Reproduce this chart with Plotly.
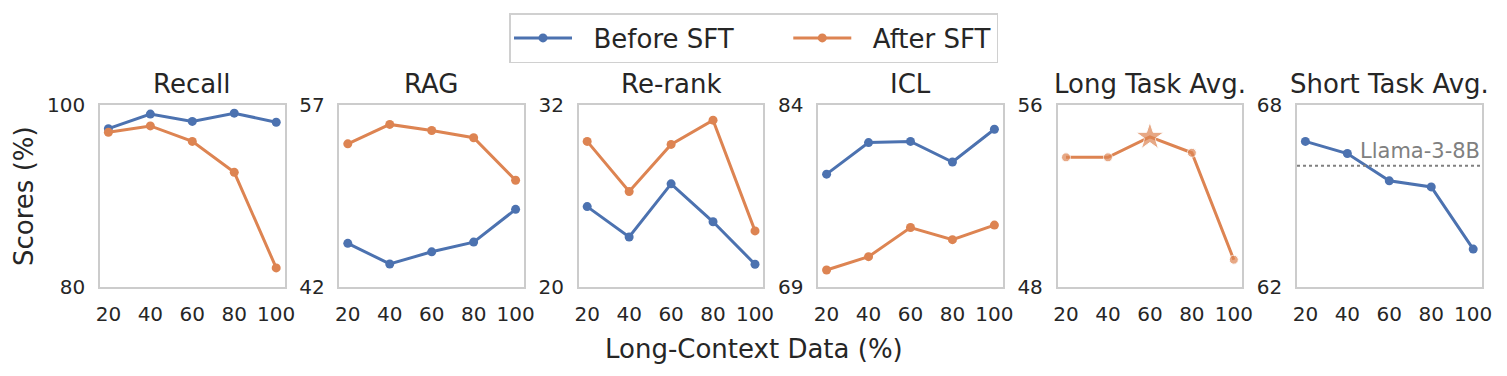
import plotly.graph_objects as go

# ---------------- data ----------------
x_vals = [20, 40, 60, 80, 100]
x_ticks = [20, 40, 60, 80, 100]

titles = ["Recall", "RAG", "Re-rank", "ICL", "Long Task Avg.", "Short Task Avg."]
series_names = ["Before SFT", "After SFT"]

recall_before = [97.4, 99.0, 98.2, 99.1, 98.1]
recall_after = [97.0, 97.7, 96.0, 92.6, 82.1]
rag_before = [45.6, 43.9, 44.9, 45.7, 48.4]
rag_after = [53.8, 55.4, 54.9, 54.3, 50.8]
rerank_before = [25.3, 23.3, 26.8, 24.3, 21.5]
rerank_after = [29.6, 26.3, 29.4, 31.0, 23.7]
icl_before = [78.3, 80.9, 81.0, 79.3, 82.0]
icl_after = [70.4, 71.5, 73.9, 72.9, 74.1]
long_after = [53.7, 53.7, 54.6, 53.9, 49.2]
short_before = [66.8, 66.4, 65.5, 65.3, 63.25]

llama_short = 66.0
llama_label = "Llama-3-8B"

y_ranges = [(80, 100), (42, 57), (20, 32), (69, 84), (48, 56), (62, 68)]

before_series = [recall_before, rag_before, rerank_before, icl_before, None, short_before]
after_series = [recall_after, rag_after, rerank_after, icl_after, long_after, None]

# ---------------- style ----------------
BLUE = "#4C72B0"
ORANGE = "#DD8452"
TXT = "#262626"
EDGE = "#cccccc"
FONT = "DejaVu Sans"
NB = "\u00a0"

# legend labels: small gap after the symbol, wider gap between entries
legend_labels = [NB * 2 + series_names[0] + NB * 6, NB * 2 + series_names[1]]

OFF = 8                    # page body margin
W, H = 1507 - 2 * OFF, 376 - 2 * OFF


def px_x(p):
    return (p - OFF) / W


def px_y(p):
    return 1 - (p - OFF) / H


left0, step, pw = 100.0, 239.4, 184.6
y_dom = [px_y(287), px_y(105)]

fig = go.Figure()
layout = {}
annotations = []
legend_done = {"before": False, "after": False}

for i in range(6):
    n = i + 1
    xa = "x" if n == 1 else f"x{n}"
    ya = "y" if n == 1 else f"y{n}"
    l = left0 + i * step
    dom = [px_x(l), px_x(l + pw)]
    lo, hi = y_ranges[i]

    layout["xaxis" if n == 1 else f"xaxis{n}"] = dict(
        domain=dom, anchor=ya, range=[16, 104], tickvals=x_ticks,
        showgrid=False, zeroline=False, showline=True, mirror=True,
        linecolor=EDGE, linewidth=1.5, ticks="", ticklabelstandoff=8,
        tickfont=dict(size=20, color=TXT, family=FONT), automargin=False,
    )
    layout["yaxis" if n == 1 else f"yaxis{n}"] = dict(
        domain=y_dom, anchor=xa, range=[lo, hi], tickvals=[lo, hi],
        showgrid=False, zeroline=False, showline=True, mirror=True,
        linecolor=EDGE, linewidth=1.5, ticks="", ticklabelstandoff=9,
        tickfont=dict(size=20, color=TXT, family=FONT), automargin=False,
    )

    if before_series[i] is not None:
        fig.add_trace(go.Scatter(
            x=x_vals, y=before_series[i], mode="lines+markers", name=legend_labels[0],
            line=dict(color=BLUE, width=3), marker=dict(color=BLUE, size=9),
            xaxis=xa, yaxis=ya, legendgroup="before",
            showlegend=not legend_done["before"],
        ))
        legend_done["before"] = True
    if after_series[i] is not None:
        vals = after_series[i]
        if titles[i] == "Long Task Avg.":
            best = max(range(len(vals)), key=lambda k: vals[k])
            symbols = ["star" if k == best else "circle" for k in range(len(vals))]
            sizes = [21 if k == best else 9 for k in range(len(vals))]
        else:
            symbols = "circle"
            sizes = 9
        fig.add_trace(go.Scatter(
            x=x_vals, y=vals, mode="lines+markers", name=legend_labels[1],
            line=dict(color=ORANGE, width=3),
            marker=dict(color=ORANGE, size=sizes, symbol=symbols),
            xaxis=xa, yaxis=ya, legendgroup="after",
            showlegend=not legend_done["after"],
        ))
        legend_done["after"] = True

    annotations.append(dict(
        text=titles[i], x=(dom[0] + dom[1]) / 2, y=px_y(84),
        xref="paper", yref="paper", xanchor="center", yanchor="middle",
        showarrow=False, font=dict(size=26, color=TXT, family=FONT),
    ))

# Llama-3-8B reference line
fig.add_shape(type="line", xref="x6 domain", yref="y6", x0=0, x1=1,
              y0=llama_short, y1=llama_short,
              line=dict(color="gray", width=2, dash="dot"))
annotations.append(dict(
    text=llama_label, x=104, y=llama_short, xref="x6", yref="y6",
    xanchor="right", yanchor="middle", yshift=15, showarrow=False,
    font=dict(size=21, color="gray", family=FONT),
))

annotations.append(dict(
    text="Scores (%)", x=px_x(24), y=(y_dom[0] + y_dom[1]) / 2,
    xref="paper", yref="paper", xanchor="center", yanchor="middle",
    textangle=-90, showarrow=False, font=dict(size=26, color=TXT, family=FONT),
))
annotations.append(dict(
    text="Long-Context Data (%)", x=px_x(753.5), y=px_y(349),
    xref="paper", yref="paper", xanchor="center", yanchor="middle",
    showarrow=False, font=dict(size=26, color=TXT, family=FONT),
))

fig.update_layout(
    **layout,
    width=W, height=H,
    margin=dict(l=0, r=0, t=0, b=0, autoexpand=False),
    paper_bgcolor="white", plot_bgcolor="white",
    font=dict(family=FONT, color=TXT),
    annotations=annotations,
    legend=dict(
        orientation="h", x=px_x(753.5), xanchor="center", y=px_y(13), yanchor="top",
        bordercolor="#d0d0d0", borderwidth=1.5, bgcolor="white",
        font=dict(size=26, color=TXT, family=FONT),
        itemwidth=58, tracegroupgap=0,
    ),
)

fig.write_html("out.html")
